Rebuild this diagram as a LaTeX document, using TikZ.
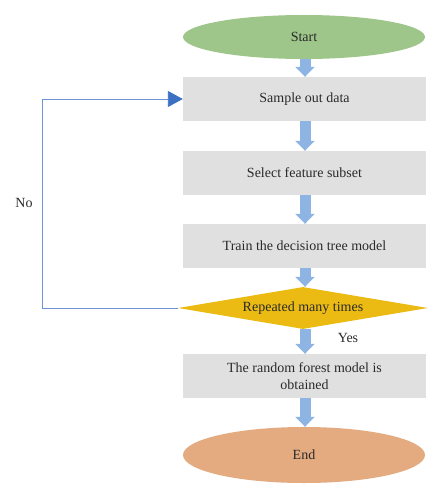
\documentclass[tikz,border=0pt]{standalone}
\usepackage{fontspec}
\setmainfont{Liberation Serif}
\usetikzlibrary{shapes.geometric,arrows.meta}
\definecolor{startgreen}{HTML}{9EC68A}
\definecolor{endorange}{HTML}{E4AA80}
\definecolor{boxgray}{HTML}{E0E0E0}
\definecolor{diagold}{HTML}{EBBB14}
\definecolor{flowblue}{HTML}{8DB4E2}
\definecolor{loopline}{HTML}{6E96D6}
\definecolor{looptip}{HTML}{3B70C2}
\definecolor{txt}{HTML}{2A2A2A}
\tikzset{
  every node/.style={font=\fontsize{14}{17}\selectfont, text=txt},
  procbox/.style={rectangle, fill=boxgray, draw=none, minimum width=243pt, minimum height=44pt, inner sep=0pt, align=center},
  terminal/.style={ellipse, draw=none, minimum width=242pt, inner sep=0pt},
  decision/.style={diamond, fill=diagold, draw=none, aspect=6, minimum width=250pt, minimum height=42pt, inner sep=0pt},
  blockarrow/.style={draw=flowblue, line width=11pt, -{Triangle[width=19pt,length=10pt,color=flowblue]}},
  loopedge/.style={draw=loopline, line width=0.9pt, -{Triangle[width=16pt,length=15pt,color=looptip]}},
  lbl/.style={inner sep=0pt}
}
\begin{document}
\begin{tikzpicture}[x=1pt,y=-1pt]
\useasboundingbox (0,0) rectangle (445,500);
\node[terminal, fill=startgreen, minimum height=44pt] (start) at (304,37) {Start};
\node[procbox] (sample) at (304.5,99) {Sample out data};
\node[procbox] (select) at (304.5,173) {Select feature subset};
\node[procbox] (train) at (304.5,246) {Train the decision tree model};
\node[decision] (rep) at (303,308) {Repeated many times};
\node[procbox] (forest) at (304.5,376) {The random forest model is\\obtained};
\node[terminal, fill=endorange, minimum height=56pt] (end) at (304,455) {End};
\coordinate (c1) at (42,308);
\coordinate (c2) at (42,99);
\node[lbl] (no) at (24,203) {No};
\node[lbl] (yes) at (348,338) {Yes};
\draw[blockarrow] (start.south -| 305,0) -- (sample.north -| 305,0);
\draw[blockarrow] (sample.south -| 305,0) -- (select.north -| 305,0);
\draw[blockarrow] (select.south -| 305,0) -- (train.north -| 305,0);
\draw[blockarrow] (train.south -| 305,0) -- (rep.north -| 305,0);
\draw[blockarrow] (rep.south -| 305,0) -- (forest.north -| 305,0);
\draw[blockarrow] (forest.south -| 305,0) -- (end.north -| 305,0);
\draw[loopedge] (rep.west) -- (c1) -- (c2) -- (sample.west);
\end{tikzpicture}
\end{document}
